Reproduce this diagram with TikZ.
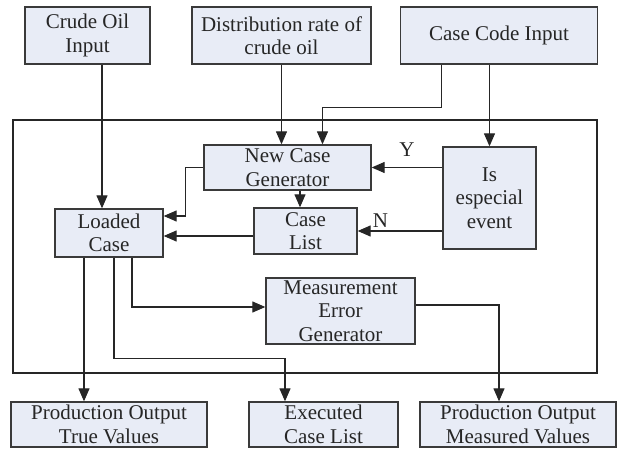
\documentclass[tikz,border=0pt]{standalone}
\usepackage{fontspec}
\setmainfont{Liberation Serif}
\usepackage{tikz}
\usetikzlibrary{positioning,arrows.meta}

\definecolor{boxfill}{HTML}{E8ECF6}
\definecolor{boxline}{HTML}{3A3A3A}
\definecolor{txt}{HTML}{262626}

\tikzset{
  box/.style={draw=boxline,fill=boxfill,line width=1.3pt,align=center,inner sep=0pt,
    text=txt,font=\fontsize{21}{23.5}\selectfont},
  arr/.style={-{Triangle[length=13pt,width=11pt]},line width=1.1pt,draw=black!85},
  lbl/.style={text=txt,font=\fontsize{21}{23.5}\selectfont}
}

\begin{document}
\begin{tikzpicture}[x=1pt,y=1pt,node distance=2cm,on grid]
\useasboundingbox (0,0) rectangle (619,-449);
\draw[line width=1.1pt,draw=black!85] (13,-120) rectangle (597,-373);
% inputs
\node[box,minimum width=125pt,minimum height=57pt] (crude) at (87.5,-35.5) {Crude Oil\\Input};
\node[box,minimum width=179pt,minimum height=57pt] (dist) [right=194pt of crude] {Distribution rate of\\crude oil};
\node[box,minimum width=197pt,minimum height=57pt] (code) [right=217.5pt of dist] {Case Code Input};
% inside
\node[box,minimum width=167pt,minimum height=45pt] (ncg) [below right=132pt and 6pt of dist] {New Case\\Generator};
\node[box,minimum width=93pt,minimum height=102pt] (event) [below left=162.5pt and 9.5pt of code] {Is\\especial\\event};
\node[box,minimum width=108pt,minimum height=48pt] (loaded) [below right=197.5pt and 21.5pt of crude] {Loaded\\Case};
\node[box,minimum width=103pt,minimum height=46pt] (caselist) [below right=63.5pt and 18pt of ncg] {Case\\List};
\node[box,minimum width=149pt,minimum height=66pt] (meg) [below right=80pt and 35pt of caselist] {Measurement\\Error\\Generator};
% outputs
\node[box,minimum width=196pt,minimum height=45pt] (trueval) [below=191.5pt of loaded] {Production Output\\True Values};
\node[box,minimum width=149pt,minimum height=45pt] (executed) [right=214.5pt of trueval] {Executed\\Case List};
\node[box,minimum width=196pt,minimum height=45pt] (measured) [right=194.5pt of executed] {Production Output\\Measured Values};

\coordinate (a1) at ([xshift=-7pt]loaded.north);
\coordinate (a2) at ([xshift=35pt]ncg.north);
\coordinate (a3) at ([xshift=-57.5pt]code.south);
\coordinate (b1) at ([yshift=-5pt]caselist.west);
\coordinate (c1) at ([xshift=-25pt]loaded.south);
\coordinate (c2) at ([xshift=5pt]loaded.south);
\coordinate (c3) at ([xshift=23pt]loaded.south);
\coordinate (c4) at ([xshift=-38.5pt]executed.north);
\coordinate (c5) at ([xshift=-19pt]measured.north);

\draw[arr] (crude.south -| a1) -- (a1);
\draw[arr] (dist.south) -- (dist.south |- ncg.north);
\draw[arr] (a3) -- ++(0,-43) -| (a2);
\draw[arr] (code.south -| event.north) -- (event.north);
\draw[arr] (event.west |- ncg.east) -- node[lbl,above=7pt] {Y} (ncg.east);
\draw[arr] (event.west |- caselist.east) -- node[lbl,pos=.73,above=0pt] {N} (caselist.east);
\draw[arr] ([xshift=-5.5pt]caselist.north |- ncg.south) -- ([xshift=-5.5pt]caselist.north);
\draw[arr] (ncg.west) -- ++(-18,0) |- ([yshift=17pt]loaded.east);
\draw[arr] (b1) -- (b1 -| loaded.east);
\draw[arr] (c1) -- (c1 |- trueval.north);
\draw[arr] (c2) -- ++(0,-101) -| (c4);
\draw[arr] (c3) |- ([yshift=4pt]meg.west);
\draw[arr] ([yshift=6pt]meg.east) -| (c5);
\end{tikzpicture}
\end{document}
